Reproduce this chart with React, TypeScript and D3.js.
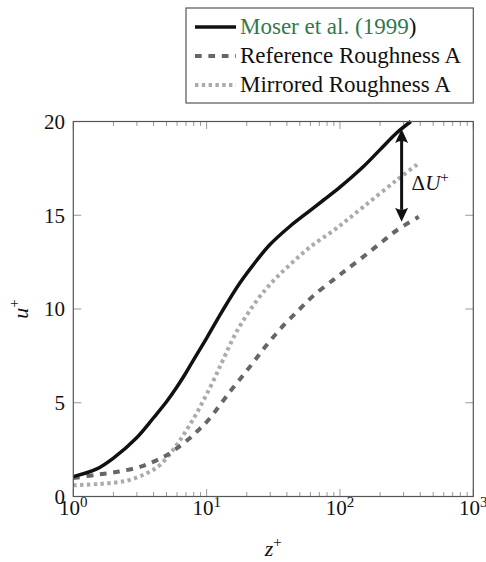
import React from "react";
import * as d3 from "d3";

// ---- data ----
const Z_MOSER = [1, 1.5, 2, 3, 4, 5, 6, 7, 8, 10, 13, 17.8, 23.8, 30, 42, 56, 75, 100, 150, 200, 267, 340];
const U_MOSER = [1.06, 1.47, 2.05, 3.15, 4.2, 5.05, 5.85, 6.6, 7.3, 8.45, 9.85, 11.4, 12.6, 13.45, 14.4, 15.1, 15.8, 16.5, 17.6, 18.5, 19.4, 20.0];

const Z_REF = [1, 1.5, 2.2, 3.2, 4, 4.9, 5.8, 7.3, 8.7, 10.3, 15, 21, 28, 38, 50, 63, 89, 112, 150, 200, 267, 390];
const U_REF = [0.98, 1.16, 1.33, 1.59, 1.86, 2.16, 2.5, 3.05, 3.55, 4.08, 5.6, 6.9, 8.05, 9.15, 10.0, 10.7, 11.55, 12.1, 12.79, 13.5, 14.2, 14.92];

const Z_MIR = [1, 1.58, 2.5, 3.55, 4.47, 5.96, 7.08, 8.41, 10, 11.9, 13.3, 16.8, 23.8, 31.6, 42, 59.6, 94, 150, 267, 390];
const U_MIR = [0.6, 0.67, 0.84, 1.24, 1.68, 2.75, 3.55, 4.44, 5.45, 6.55, 7.3, 8.8, 10.45, 11.5, 12.35, 13.3, 14.3, 15.45, 16.88, 17.77];

const SERIES_NAMES = ["Moser et al. (1999", ")", "Reference Roughness A", "Mirrored Roughness A"];
const X_MAJOR = [0, 1, 2, 3];
const Y_TICKS = [0, 5, 10, 15, 20];
const ARROW_Z = 290;
const ARROW_U = [19.6, 14.65];

const FONT = "'Liberation Serif', 'Times New Roman', serif";

export default function App() {
  const W = 486, H = 562;
  const L = 73.3, R = 473.3, T = 121.5, B = 496.5;
  const x = d3.scaleLog().domain([1, 1000]).range([L, R]);
  const y = d3.scaleLinear().domain([0, 20]).range([B, T]);

  const line = d3
    .line<[number, number]>()
    .x((d) => x(d[0]))
    .y((d) => y(d[1]))
    .curve(d3.curveCatmullRom.alpha(0.5));

  const pts = (zs: number[], us: number[]) => zs.map((z, i) => [z, us[i]] as [number, number]);

  const xt = x.ticks();
  const isMajor = (v: number) => Math.abs(Math.log10(v) - Math.round(Math.log10(v))) < 1e-9;

  const ax = x(ARROW_Z);
  const yTop = y(ARROW_U[0]);
  const yBot = y(ARROW_U[1]);
  const headL = 14, headW = 6.5;

  const legX1 = 195, legX2 = 236, legText = 240;
  const rows = [34, 63, 92];

  return (
    <svg width={W} height={H} style={{ position: "absolute", left: 0, top: 0, background: "#fff" }} fontFamily={FONT}>
      {/* ticks */}
      {xt.map((v, i) => {
        const len = isMajor(v) ? 7.5 : 4.5;
        return (
          <g key={"xt" + i} stroke="#999" strokeWidth={1}>
            <line x1={x(v)} x2={x(v)} y1={B} y2={B - len} />
            <line x1={x(v)} x2={x(v)} y1={T} y2={T + len} />
          </g>
        );
      })}
      {Y_TICKS.map((v, i) => (
        <g key={"yt" + i} stroke="#999" strokeWidth={1}>
          <line x1={L} x2={L + 8} y1={y(v)} y2={y(v)} />
          <line x1={R} x2={R - 8} y1={y(v)} y2={y(v)} />
        </g>
      ))}

      {/* curves */}
      <path d={line(pts(Z_MIR, U_MIR)) || ""} fill="none" stroke="#ababab" strokeWidth={4} strokeDasharray="3.4 3.4" />
      <path d={line(pts(Z_REF, U_REF)) || ""} fill="none" stroke="#666" strokeWidth={4} strokeDasharray="6.7 6.7" />
      <path d={line(pts(Z_MOSER, U_MOSER)) || ""} fill="none" stroke="#111" strokeWidth={3.5} />

      {/* frame */}
      <rect x={L} y={T} width={R - L} height={B - T} fill="none" stroke="#555" strokeWidth={1.2} />

      {/* arrow */}
      <line x1={ax} x2={ax} y1={yTop + headL - 2} y2={yBot - headL + 2} stroke="#111" strokeWidth={3} />
      <path
        d={`M${ax},${yTop} L${ax - headW},${yTop + headL} Q${ax},${yTop + headL - 4} ${ax + headW},${yTop + headL} Z`}
        fill="#111"
      />
      <path
        d={`M${ax},${yBot} L${ax - headW},${yBot - headL} Q${ax},${yBot - headL + 4} ${ax + headW},${yBot - headL} Z`}
        fill="#111"
      />
      <text x={ax + 10} y={190} fontSize={21} fill="#111">
        Δ<tspan fontStyle="italic">U</tspan>
        <tspan fontSize={15} dy={-8}>+</tspan>
      </text>

      {/* x tick labels */}
      {X_MAJOR.map((e) => (
        <text key={"xl" + e} x={x(Math.pow(10, e))} y={515} fontSize={21} textAnchor="middle" fill="#111">
          10<tspan fontSize={15} dy={-8}>{e}</tspan>
        </text>
      ))}
      {/* y tick labels */}
      {Y_TICKS.map((v) => (
        <text key={"yl" + v} x={65} y={y(v)} dy="0.35em" fontSize={21} textAnchor="end" fill="#111">
          {v}
        </text>
      ))}

      {/* axis labels */}
      <text x={(L + R) / 2} y={556} fontSize={22} textAnchor="middle" fill="#111">
        <tspan fontStyle="italic">z</tspan>
        <tspan fontSize={15} dy={-9}>+</tspan>
      </text>
      <text transform={`translate(28,${(T + B) / 2}) rotate(-90)`} fontSize={22} textAnchor="middle" fill="#111">
        <tspan fontStyle="italic">u</tspan>
        <tspan fontSize={15} dy={-9}>+</tspan>
      </text>

      {/* legend */}
      <rect x={186} y={8} width={R - 186} height={95} fill="#fff" stroke="#555" strokeWidth={1.2} />
      <line x1={legX1} x2={legX2} y1={rows[0] - 7} y2={rows[0] - 7} stroke="#111" strokeWidth={3.5} />
      <line x1={legX1} x2={legX2} y1={rows[1] - 7} y2={rows[1] - 7} stroke="#666" strokeWidth={4} strokeDasharray="6.7 6.7" />
      <line x1={legX1} x2={legX2} y1={rows[2] - 7} y2={rows[2] - 7} stroke="#ababab" strokeWidth={4} strokeDasharray="3.4 3.4" />
      <text x={legText} y={rows[0]} fontSize={23} fill="#2f7a4d">
        {SERIES_NAMES[0]}
        <tspan fill="#111">{SERIES_NAMES[1]}</tspan>
      </text>
      <text x={legText} y={rows[1]} fontSize={23} fill="#111">
        {SERIES_NAMES[2]}
      </text>
      <text x={legText} y={rows[2]} fontSize={23} fill="#111">
        {SERIES_NAMES[3]}
      </text>
    </svg>
  );
}
